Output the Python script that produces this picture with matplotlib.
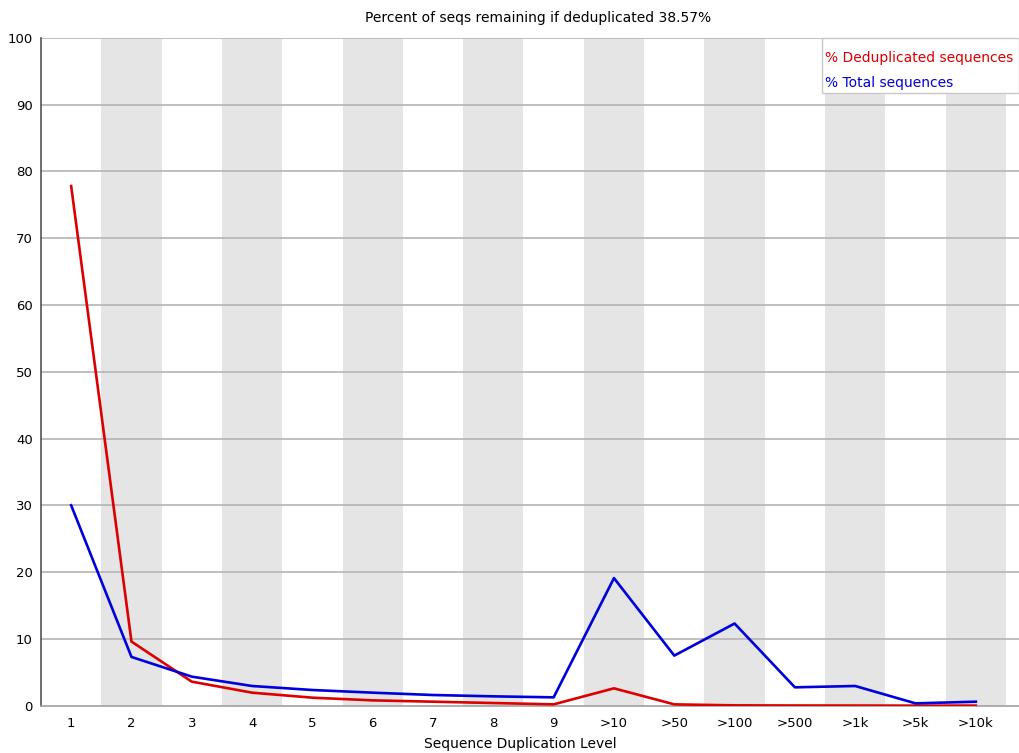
import matplotlib
matplotlib.use("Agg")
import matplotlib.pyplot as plt

levels = ["1", "2", "3", "4", "5", "6", "7", "8", "9",
          ">10", ">50", ">100", ">500", ">1k", ">5k", ">10k"]
dedup_pct = [77.8, 9.6, 3.6, 1.95, 1.2, 0.8, 0.6, 0.4, 0.2,
             2.6, 0.2, 0.05, 0.03, 0.02, 0.01, 0.01]
total_pct = [30.0, 7.3, 4.35, 2.95, 2.35, 1.95, 1.6, 1.4, 1.25,
             19.1, 7.5, 12.3, 2.75, 2.95, 0.35, 0.6]
title = "Percent of seqs remaining if deduplicated 38.57%"

W, H = 1020, 753
fig = plt.figure(figsize=(W / 100, H / 100), dpi=100)
ax = fig.add_axes([41 / W, (H - 705.7) / H, (1019 - 41) / W, (705.7 - 37.7) / H])

x = list(range(len(levels)))
for i in x:
    if i % 2 == 1:
        ax.axvspan(i - 0.5, i + 0.5, color="#e5e5e5", lw=0, zorder=0)

for yv in range(10, 101, 10):
    ax.axhline(yv, color="#b4b4b4", lw=1.2, zorder=1)

red = "#dc0000"
blue = "#0000dc"
ax.plot(x, dedup_pct, color=red, lw=1.9, zorder=3)
ax.plot(x, total_pct, color=blue, lw=1.9, zorder=3)

ax.set_xlim(-0.5, 15.5 + 13 / 60.3)
ax.set_ylim(0, 100)
ax.set_xticks(x)
ax.set_xticklabels(levels)
ax.set_yticks(range(0, 101, 10))
ax.tick_params(length=0, labelsize=9.5, colors="#000000")
ax.tick_params(axis="x", pad=8)
ax.tick_params(axis="y", pad=6)

for side in ["top", "right"]:
    ax.spines[side].set_visible(False)
ax.spines["left"].set_color("#555555")
ax.spines["left"].set_linewidth(1.2)
ax.spines["bottom"].set_color("#a0a0a0")
ax.spines["bottom"].set_linewidth(1.2)

fig.text(520 / W, 1 - 744 / H, "Sequence Duplication Level", ha="center", va="center", fontsize=10)
fig.text(538 / W, 1 - 18 / H, title, ha="center", va="center", fontsize=10)

# legend box
lx0, ly0, lx1, ly1 = 822, 38, 1019, 93
fig.patches.append(plt.Rectangle((lx0 / W, 1 - ly1 / H), (lx1 - lx0) / W, (ly1 - ly0) / H,
                                 transform=fig.transFigure, facecolor="white",
                                 edgecolor="#c8c8c8", lw=1, zorder=5))
fig.text(825 / W, 1 - 58 / H, "% Deduplicated sequences", color=red,
         ha="left", va="center", fontsize=10, zorder=6)
fig.text(825 / W, 1 - 83 / H, "% Total sequences", color=blue,
         ha="left", va="center", fontsize=10, zorder=6)

fig.savefig("out.png", dpi=100)
